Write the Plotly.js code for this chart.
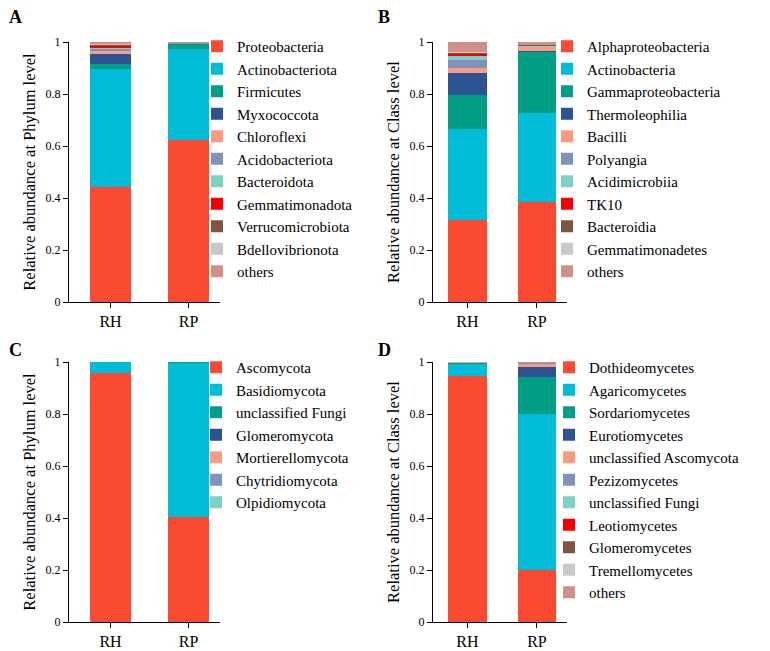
<!DOCTYPE html>
<html>
<head>
<meta charset="utf-8">
<script src="https://cdn.plot.ly/plotly-3.0.1.min.js"></script>
<style>
  html, body { margin: 0; padding: 0; background: #fff; }
  #chart { width: 770px; height: 651px; }
</style>
</head>
<body>
<div id="chart"></div>
<script>
var groups = ['RH', 'RP'];

// A: bacteria, phylum level
var phylumA = ['Proteobacteria', 'Actinobacteriota', 'Firmicutes', 'Myxococcota', 'Chloroflexi',
  'Acidobacteriota', 'Bacteroidota', 'Gemmatimonadota', 'Verrucomicrobiota', 'Bdellovibrionota', 'others'];
var phylumA_RH = [0.442, 0.456, 0.017, 0.039, 0.013, 0.006, 0.004, 0.007, 0.004, 0.004, 0.008];
var phylumA_RP = [0.625, 0.348, 0.019, 0.001, 0.001, 0.001, 0.000, 0.000, 0.001, 0.002, 0.002];

// B: bacteria, class level
var classB = ['Alphaproteobacteria', 'Actinobacteria', 'Gammaproteobacteria', 'Thermoleophilia', 'Bacilli',
  'Polyangia', 'Acidimicrobiia', 'TK10', 'Bacteroidia', 'Gemmatimonadetes', 'others'];
var classB_RH = [0.316, 0.349, 0.132, 0.084, 0.019, 0.032, 0.013, 0.009, 0.002, 0.004, 0.040];
var classB_RP = [0.386, 0.341, 0.235, 0.004, 0.013, 0.003, 0.002, 0.001, 0.003, 0.002, 0.010];

// C: fungi, phylum level
var phylumC = ['Ascomycota', 'Basidiomycota', 'unclassified Fungi', 'Glomeromycota',
  'Mortierellomycota', 'Chytridiomycota', 'Olpidiomycota'];
var phylumC_RH = [0.958, 0.042, 0, 0, 0, 0, 0];
var phylumC_RP = [0.402, 0.595, 0.002, 0.001, 0, 0, 0];

// D: fungi, class level
var classD = ['Dothideomycetes', 'Agaricomycetes', 'Sordariomycetes', 'Eurotiomycetes', 'unclassified Ascomycota',
  'Pezizomycetes', 'unclassified Fungi', 'Leotiomycetes', 'Glomeromycetes', 'Tremellomycetes', 'others'];
var classD_RH = [0.946, 0.045, 0.006, 0.001, 0.001, 0, 0, 0, 0, 0, 0.001];
var classD_RP = [0.201, 0.600, 0.141, 0.040, 0.012, 0.001, 0, 0, 0, 0, 0.005];

var palette = ['#FB4A32', '#00BCD6', '#009E85', '#2E5393', '#FC9B84', '#8094B8',
  '#7DD3C3', '#F50000', '#7B5741', '#C8C8C8', '#D0908A'];

var font = 'Liberation Serif';

function makeTraces(names, rh, rp, ax, leg, width) {
  return names.map(function (n, i) {
    return {
      type: 'bar', name: n, x: groups, y: [rh[i], rp[i]],
      xaxis: 'x' + ax, yaxis: 'y' + ax, legend: leg,
      width: width, marker: {color: palette[i], line: {width: 0}},
      hoverinfo: 'name+y'
    };
  });
}

var data = [].concat(
  makeTraces(phylumA, phylumA_RH, phylumA_RP, '', 'legend', 0.53),
  makeTraces(classB, classB_RH, classB_RP, '2', 'legend2', 0.56),
  makeTraces(phylumC, phylumC_RH, phylumC_RP, '3', 'legend3', 0.53),
  makeTraces(classD, classD_RH, classD_RP, '4', 'legend4', 0.56)
);

var W = 770, H = 651;
function px(a, b) { return [a / W, b / W]; }
function py(top, bottom) { return [1 - bottom / H, 1 - top / H]; }

function xax(domain, range, anchor) {
  return {
    domain: domain, range: range, type: 'category', anchor: anchor,
    showline: true, linecolor: '#000', linewidth: 1,
    ticks: 'outside', ticklen: 5, tickcolor: '#000', showgrid: false, zeroline: false,
    tickfont: {family: font, size: 16, color: '#000'}
  };
}
function yax(domain, title, anchor) {
  return {
    domain: domain, range: [0, 1], showline: true, linecolor: '#000', linewidth: 1,
    ticks: 'outside', ticklen: 5, tickcolor: '#000', showgrid: false, zeroline: false,
    tickvals: [0, 0.2, 0.4, 0.6, 0.8, 1], ticktext: ['0', '0.2', '0.4', '0.6', '0.8', '1'],
    tickfont: {family: font, size: 12, color: '#000'}, anchor: anchor,
    title: {text: title, font: {family: font, size: 16.5, color: '#000'}, standoff: 5}
  };
}
function leg(x, y) {
  return {
    x: x, y: y, xanchor: 'left', yanchor: 'top', traceorder: 'normal',
    bgcolor: 'rgba(0,0,0,0)', font: {family: font, size: 15, color: '#000'},
    tracegroupgap: 0, itemclick: false, itemdoubleclick: false
  };
}
function letter(t, x, y) {
  return {text: '<b>' + t + '</b>', x: x / W, y: 1 - y / H, xref: 'paper', yref: 'paper',
    xanchor: 'center', yanchor: 'middle',
    showarrow: false, font: {family: font, size: 18, color: '#000'}};
}

var layout = {
  width: W, height: H, margin: {l: 0, r: 0, t: 0, b: 0},
  paper_bgcolor: '#fff', plot_bgcolor: '#fff', barmode: 'stack', showlegend: true,
  font: {family: font, color: '#000'},
  xaxis: xax(px(69, 220), [-0.532, 1.404], 'y'),
  yaxis: yax(py(42, 302), 'Relative abundance at Phylum level', 'x'),
  xaxis2: xax(px(433, 567), [-0.496, 1.432], 'y2'),
  yaxis2: yax(py(42, 302), 'Relative abundance at Class level', 'x2'),
  xaxis3: xax(px(69, 220), [-0.532, 1.404], 'y3'),
  yaxis3: yax(py(362, 622), 'Relative abundance at Phylum level', 'x3'),
  xaxis4: xax(px(433, 567), [-0.496, 1.432], 'y4'),
  yaxis4: yax(py(362, 622), 'Relative abundance at Class level', 'x4'),
  legend: leg(197 / W, 1 - 30 / H),
  legend2: leg(547 / W, 1 - 30 / H),
  legend3: leg(196 / W, 1 - 351 / H),
  legend4: leg(549 / W, 1 - 351 / H),
  annotations: [letter('A', 15, 17), letter('B', 384, 17), letter('C', 15, 350), letter('D', 384, 350)]
};

Plotly.newPlot('chart', data, layout, {displayModeBar: false, staticPlot: true});
</script>
</body>
</html>
